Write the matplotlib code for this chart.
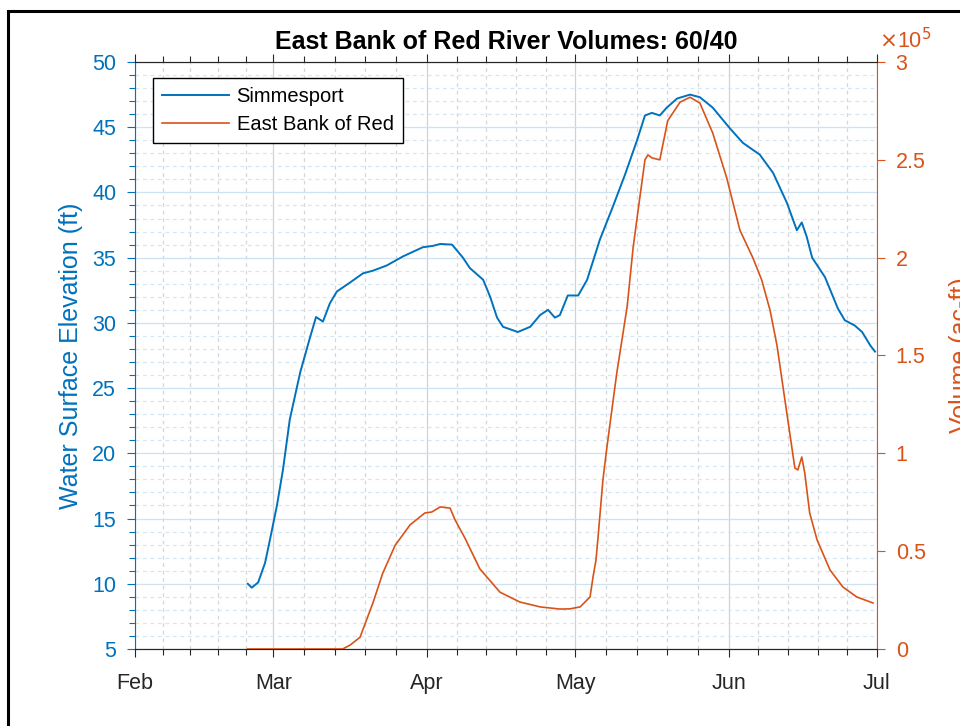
import numpy as np
import matplotlib
matplotlib.use('Agg')
import matplotlib.pyplot as plt
import matplotlib.dates as mdates
import matplotlib.patches as patches
from matplotlib.ticker import MultipleLocator, FixedLocator, FuncFormatter
from datetime import datetime
import calendar

plt.rcParams['font.family'] = ['Liberation Sans', 'DejaVu Sans']

# days after Feb 1 (2019) and stage at Simmesport (ft)
sim_day = [22.8, 23.6, 24.9, 26.3, 27.3, 28.7, 29.9, 31.3, 33.4, 35.4, 36.6, 38.0,
           39.4, 40.8, 43.5, 46.1, 48.1, 50.9, 54.2, 58.2, 60.2, 61.7, 64.1, 66.3,
           67.7, 70.4, 71.8, 73.2, 74.4, 77.4, 79.9, 81.9, 83.5, 84.9, 85.9, 87.5,
           89.6, 91.4, 94.0, 96.6, 99.1, 101.5, 103.1, 104.5, 106.1, 107.5, 109.6,
           112.2, 114.2, 116.8, 120.3, 122.9, 126.3, 129.0, 131.8, 133.8, 134.8,
           135.8, 136.9, 139.5, 142.1, 143.5, 145.5, 147.0, 148.6, 149.6]
sim_wse = [10.0, 9.7, 10.1, 11.6, 13.4, 16.0, 18.7, 22.6, 26.2, 28.9, 30.45, 30.1,
           31.5, 32.4, 33.1, 33.8, 34.0, 34.4, 35.1, 35.8, 35.9, 36.05, 36.0, 35.0,
           34.2, 33.3, 32.0, 30.4, 29.7, 29.3, 29.7, 30.6, 31.0, 30.4, 30.6, 32.1,
           32.1, 33.3, 36.4, 38.9, 41.4, 44.0, 45.9, 46.1, 45.9, 46.5, 47.2,
           47.5, 47.3, 46.5, 44.9, 43.8, 42.9, 41.5, 39.2, 37.1, 37.7,
           36.6, 35.0, 33.5, 31.1, 30.2, 29.8, 29.3, 28.3, 27.8]

# days after Feb 1 and East Bank of Red volume (ac-ft)
ebr_day = [22.8, 42.0, 43.5, 45.5, 48.1, 50.1, 52.6, 55.6, 58.6, 60.0, 61.7, 63.7,
           64.7, 66.7, 69.7, 73.8, 77.8, 81.9, 85.9, 87.9, 90.0, 92.0, 92.6, 93.2,
           93.6, 94.6, 95.4, 97.4, 99.5, 100.7, 101.7, 103.1, 103.7, 104.5, 106.1,
           107.7, 110.2, 112.2, 114.2, 116.8, 119.6, 122.3, 124.9, 126.7, 128.4,
           129.8, 130.8, 133.4, 134.0, 134.8, 135.4, 136.4, 137.9, 140.5, 143.1,
           145.9, 149.2]
ebr_vol = [0, 0, 2000, 6000, 23500, 38800, 53000, 63400, 69500, 70000, 72600, 72000,
           66000, 56700, 41000, 29000, 24000, 21500, 20400, 20500, 21500, 26600, 36800, 45500,
           56700, 86400, 103000, 141000, 175000, 205000, 224000, 250000, 252500, 251000, 250000,
           270000, 279500, 282000, 279000, 263700, 241000, 214000, 200000, 188600, 173000,
           155000, 137500, 92500, 91500, 98100, 90000, 69500, 55700, 40400, 31700,
           26600, 23500]

blue = '#0072BD'
orange = '#D95319'
dark = '#262626'

start = datetime(2019, 2, 1)
t0 = mdates.date2num(start)
sim_x = t0 + np.array(sim_day)
ebr_x = t0 + np.array(ebr_day)

fig = plt.figure(figsize=(9.6, 7.26), dpi=100)
ax = fig.add_axes([0.1406, 0.1061, 0.7729, 0.8085])
ax2 = ax.twinx()

l1, = ax.plot(sim_x, sim_wse, color=blue, lw=1.4, label='Simmesport', zorder=3)
l2, = ax2.plot(ebr_x, ebr_vol, color=orange, lw=1.2, label='East Bank of Red', zorder=3)

# x axis: months, each month split in 5 for minor ticks
months = [datetime(2019, m, 1) for m in range(2, 8)]
major = [mdates.date2num(d) for d in months]
minor = []
for m in range(2, 7):
    n = calendar.monthrange(2019, m)[1]
    s = mdates.date2num(datetime(2019, m, 1))
    minor += [s + k * n / 5 for k in range(1, 5)]
ax.set_xlim(major[0], major[-1])
ax.xaxis.set_major_locator(FixedLocator(major))
ax.xaxis.set_minor_locator(FixedLocator(minor))
ax.xaxis.set_major_formatter(mdates.DateFormatter('%b'))

ax.set_ylim(5, 50)
ax.yaxis.set_major_locator(MultipleLocator(5))
ax.yaxis.set_minor_locator(MultipleLocator(1))
ax2.set_ylim(0, 300000)
ax2.yaxis.set_major_locator(MultipleLocator(50000))
ax2.yaxis.set_major_formatter(FuncFormatter(lambda v, p: '%g' % (v / 1e5)))

ax.tick_params(axis='x', which='both', direction='out', top=True, colors=dark,
               labelsize=15.5, pad=12)
ax.tick_params(axis='x', which='major', length=5.5, width=0.8)
ax.tick_params(axis='x', which='minor', length=4.5, width=0.8)
ax.tick_params(axis='y', which='both', direction='out', colors=blue, labelsize=15.5, pad=8)
ax.tick_params(axis='y', which='major', length=5.5, width=0.8)
ax.tick_params(axis='y', which='minor', length=4.5, width=0.8)
ax2.tick_params(axis='y', direction='out', colors=orange, labelsize=15.5, pad=8,
                length=5.5, width=0.8)

# grid
ax.set_axisbelow(True)
ax.xaxis.grid(True, which='major', color='#d2d2d2', lw=0.9, ls='-')
ax.xaxis.grid(True, which='minor', color='#d6d6d6', lw=0.9, ls=(0, (3, 3)))
ax.yaxis.grid(True, which='major', color='#cfe2f2', lw=0.9, ls='-')
ax.yaxis.grid(True, which='minor', color='#d6e7f4', lw=0.9, ls=(0, (3, 3)))

for a in (ax, ax2):
    a.spines['top'].set_color(dark)
    a.spines['bottom'].set_color(dark)
ax.spines['left'].set_color(blue)
ax.spines['right'].set_visible(False)
ax2.spines['right'].set_color(orange)
ax2.spines['left'].set_visible(False)

ax.set_ylabel('Water Surface Elevation (ft)', color=blue, fontsize=18, labelpad=6.5)
ax2.set_ylabel('Volume (ac-ft)', color=orange, fontsize=18, labelpad=17)
ax.set_title('East Bank of Red River Volumes: 60/40', fontsize=18, fontweight='bold',
             color='black', pad=10)
fig.text(0.916, 0.944, r'$\times$10$^{5}$', color=orange, fontsize=15.5,
         ha='left', va='center')

leg = ax.legend(handles=[l1, l2], loc='upper left', bbox_to_anchor=(0.0243, 0.9727),
                borderaxespad=0, fontsize=14.5, handlelength=3.3, handletextpad=0.4,
                labelspacing=0.45, borderpad=0.45, fancybox=False, framealpha=1,
                edgecolor='black')
leg.get_frame().set_linewidth(1.0)

# black frame around figure area
fig.add_artist(patches.Rectangle((8 / 960, -0.1), 1.2, 1.1 - 11 / 726, fill=False,
                                 lw=2.2, edgecolor='black', transform=fig.transFigure))

fig.savefig('out.png', dpi=100)
